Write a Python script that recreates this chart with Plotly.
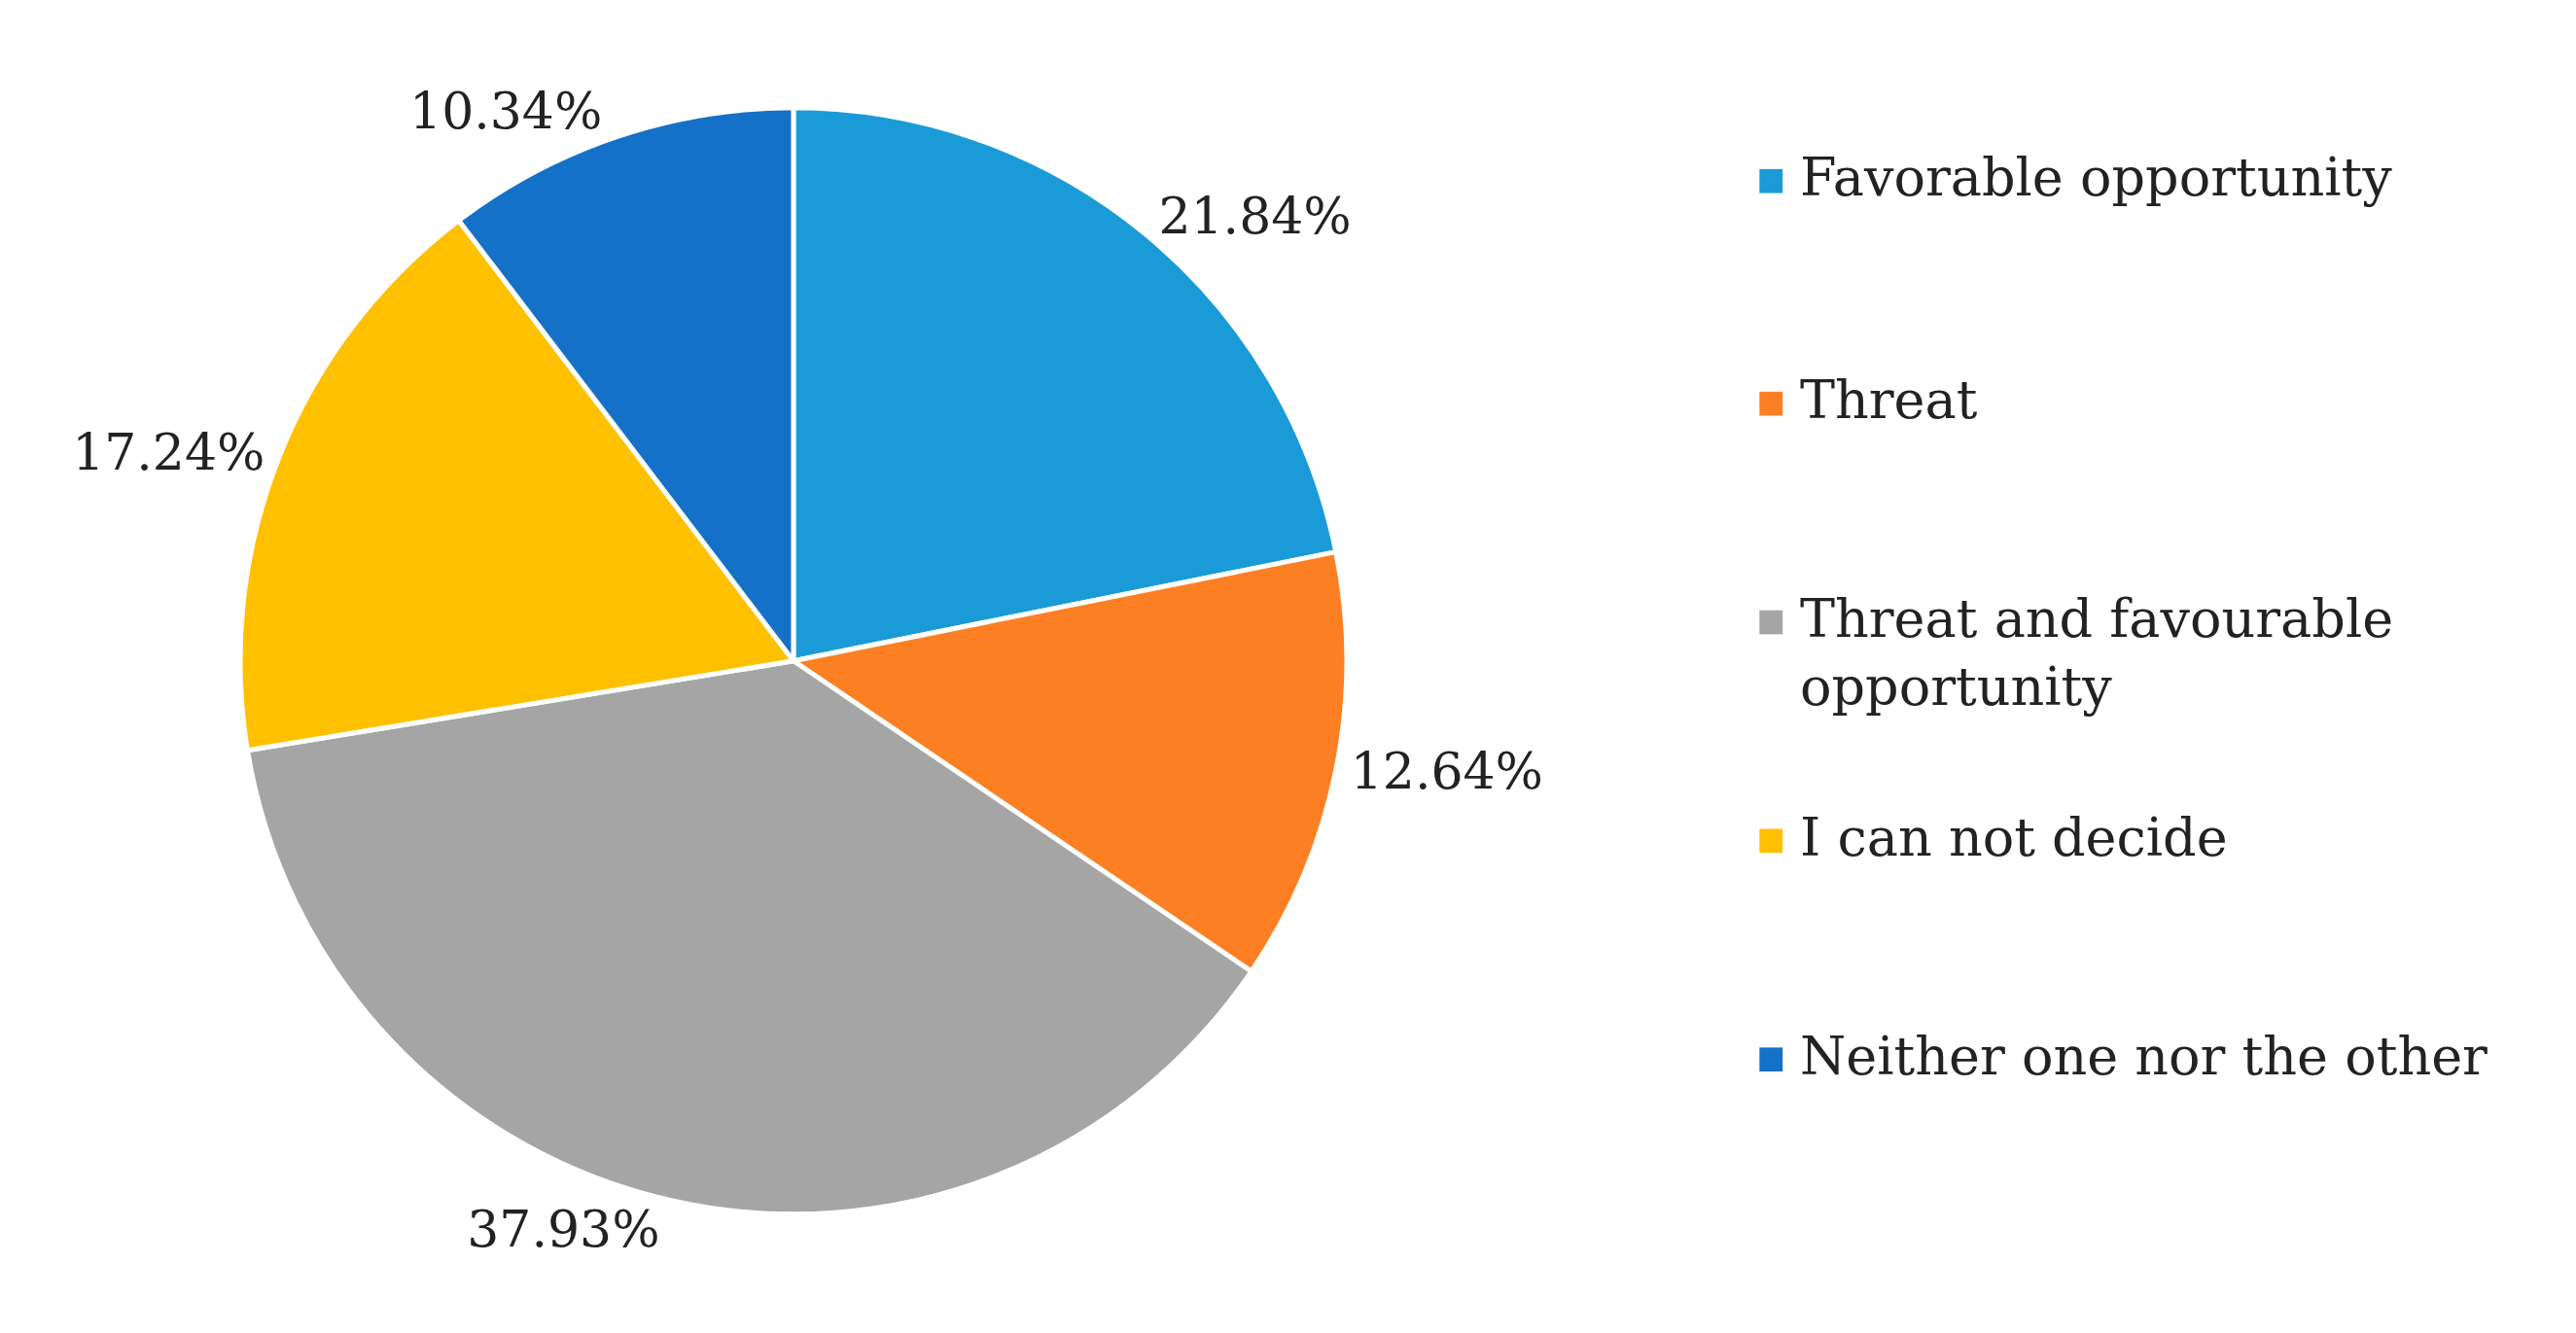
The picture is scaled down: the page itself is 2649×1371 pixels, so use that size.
import plotly.graph_objects as go

categories = ["Favorable opportunity", "Threat", "Threat and favourable<br>opportunity",
              "I can not decide", "Neither one nor the other"]
values = [21.84, 12.64, 37.93, 17.24, 10.34]
labels_txt = ["21.84%", "12.64%", "37.93%", "17.24%", "10.34%"]
colors = ["#1A9BD7", "#FD7F23", "#A5A5A5", "#FFC000", "#1570C8"]

FONT = "DejaVu Serif"
fig = go.Figure(go.Pie(
    labels=categories, values=values, text=labels_txt, texttemplate="%{text}",
    textposition="outside", sort=False, direction="clockwise", rotation=0,
    marker=dict(colors=colors, line=dict(color="white", width=5)),
    textfont=dict(family=FONT, size=52, color="#222"),
    domain=dict(x=[0.09, 0.52], y=[0.095, 0.925]), showlegend=False,
    hoverinfo="skip"))

ys = [0.870, 0.703, 0.539, 0.375, 0.211]
for c, col, y in zip(categories, colors, ys):
    fig.add_shape(type="rect", xref="paper", yref="paper",
                  x0=0.680, x1=0.689, y0=y - 0.009, y1=y + 0.009,
                  fillcolor=col, line=dict(width=0))
    fig.add_annotation(xref="paper", yref="paper", x=0.695, y=y + 0.027,
                       xanchor="left", yanchor="top", text=c, showarrow=False,
                       align="left", font=dict(family=FONT, size=54, color="#222"))

fig.update_layout(width=2649, height=1371, margin=dict(l=0, r=0, t=0, b=0),
                  paper_bgcolor="white", plot_bgcolor="white")
fig.write_html("out.html")
